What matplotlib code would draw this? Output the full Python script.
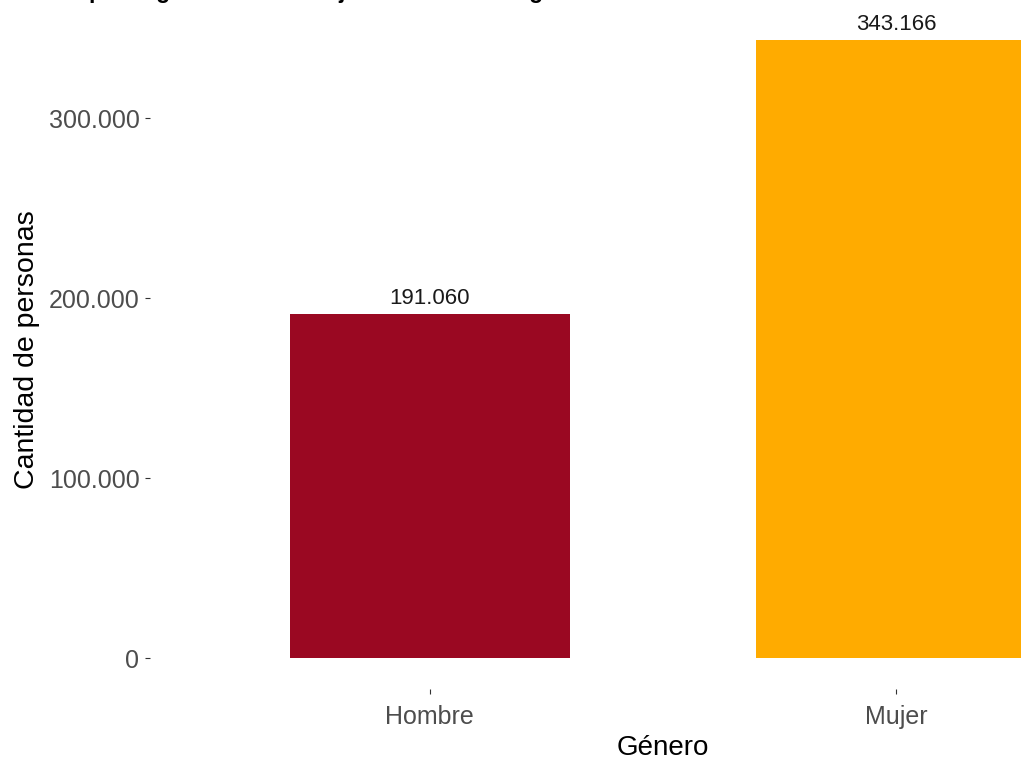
import matplotlib.pyplot as plt

plt.rcParams['font.family'] = ['Liberation Sans', 'DejaVu Sans']

# Datos
generos = ['Hombre', 'Mujer']
personas = [191060, 343166]
colores = ['#9A0822', '#FFAB00']
yticks = [0, 100000, 200000, 300000]


def miles(v):
    return f'{v:,.0f}'.replace(',', '.')


W, H = 1021, 760
fig = plt.figure(figsize=(W / 100, H / 100), dpi=100)

# panel como en ggplot (recortado a la derecha y arriba)
left, right, top, bottom = 150, 1176, 9.4, 689
ax = fig.add_axes([left / W, (H - bottom) / H, (right - left) / W, (bottom - top) / H])

x = list(range(len(generos)))
ax.bar(x, personas, width=0.6, color=colores)
for xi, v in zip(x, personas):
    ax.annotate(miles(v), (xi, v), xytext=(0, 4), textcoords='offset points',
                ha='center', va='bottom', fontsize=16, color='#1a1a1a')

ymax = max(personas)
ax.set_ylim(-0.05 * ymax, 1.05 * ymax)
ax.set_xlim(-0.6, len(generos) - 0.4)
ax.set_xticks(x)
ax.set_xticklabels(generos)
ax.set_yticks(yticks)
ax.set_yticklabels([miles(t) for t in yticks])
ax.tick_params(axis='both', colors='#333333', labelcolor='#4D4D4D',
               labelsize=18, length=3.6, width=0.8)
ax.tick_params(axis='y', pad=4)
ax.tick_params(axis='x', pad=8)
for s in ax.spines.values():
    s.set_visible(False)

fig.text(27 / W, (H - 350) / H, 'Cantidad de personas', rotation=90,
         ha='center', va='center', fontsize=20.5)
fig.text(663 / W, (H - 748) / H, 'Género', ha='center', va='center', fontsize=20)

# título (cortado en la parte superior, como en la imagen original)
titulo = 'Tiempo de gestión del trabajo remunerado según sexo'
fig.text(36 / W, 1 + 1.8 / H, titulo, ha='left', va='baseline',
         fontsize=16.5, fontweight='bold')

fig.savefig('out.png', dpi=100, facecolor='white')
